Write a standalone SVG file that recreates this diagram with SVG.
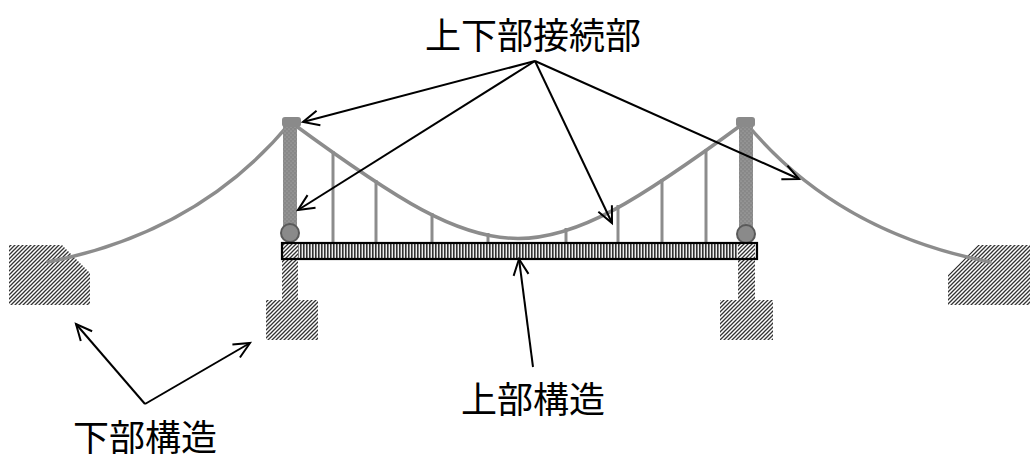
<svg xmlns="http://www.w3.org/2000/svg" width="1033" height="474" viewBox="0 0 1033 474">
  <style>
    .cable { fill: none; stroke: #8c8c8c; stroke-width: 3.5; stroke-linecap: round; }
    .hanger { stroke: #8c8c8c; stroke-width: 3; }
    .hatch { fill: url(#hatch); }
    .column { fill: url(#dots); }
    .cap { fill: #8a8a8a; }
    .bearing { fill: #8a8a8a; stroke: #5a5a5a; stroke-width: 2; }
    .arrow { fill: none; stroke: #000; stroke-width: 2; marker-end: url(#open-head); }
    .label { font-family: "Noto Sans CJK JP", "Noto Sans", sans-serif; font-size: 36px; fill: #000; text-anchor: middle; }
  </style>
  <defs>
    <!-- diagonal hatch for foundations and anchor blocks -->
    <pattern id="hatch" width="4" height="4" patternUnits="userSpaceOnUse">
      <rect width="4" height="4" fill="#fff"/>
      <path d="M-1,1 L1,-1 M0,4 L4,0 M3,5 L5,3" stroke="#333" stroke-width="1.3"/>
    </pattern>
    <!-- dotted grey fill for tower shafts -->
    <pattern id="dots" width="4" height="4" patternUnits="userSpaceOnUse">
      <rect width="4" height="4" fill="#888"/>
      <circle cx="1" cy="1" r="0.6" fill="#b4b4b4"/>
      <circle cx="3" cy="3" r="0.6" fill="#b4b4b4"/>
    </pattern>
    <!-- vertical stripes for the deck girder -->
    <pattern id="stripes" width="3" height="4" patternUnits="userSpaceOnUse">
      <rect width="3" height="4" fill="#eee"/>
      <rect width="1.6" height="4" fill="#333"/>
    </pattern>
    <marker id="open-head" markerUnits="userSpaceOnUse" viewBox="-20 -10 22 20" refX="0" refY="0" markerWidth="22" markerHeight="20" orient="auto" overflow="visible">
      <path d="M-16,-7.5 L0,0 L-16,7.5" fill="none" stroke="#000" stroke-width="2"/>
    </marker>
  </defs>

  <rect width="1033" height="474" fill="#fff"/>

  <!-- anchor blocks -->
  <g id="anchor-left">
    <polygon class="hatch" points="9,245 62,245 90,273 90,305 9,305"/>
  </g>
  <g id="anchor-right">
    <polygon class="hatch" points="978,245 1030,245 1030,305 948,305 948,275"/>
  </g>

  <!-- hangers -->
  <g id="hangers">
    <line class="hanger" x1="333" y1="151" x2="333" y2="243"/>
    <line class="hanger" x1="376" y1="180" x2="376" y2="243"/>
    <line class="hanger" x1="432" y1="213" x2="432" y2="243"/>
    <line class="hanger" x1="488" y1="233" x2="488" y2="243"/>
    <line class="hanger" x1="566" y1="228" x2="566" y2="243"/>
    <line class="hanger" x1="618" y1="205" x2="618" y2="243"/>
    <line class="hanger" x1="662" y1="179" x2="662" y2="243"/>
    <line class="hanger" x1="706" y1="149" x2="706" y2="243"/>
  </g>

  <!-- main and back-stay cables -->
  <g id="cables">
    <path class="cable" d="M292,123 C502,277 534,277 744,123"/>
    <path class="cable" d="M290,123 Q200,232 48,262"/>
    <path class="cable" d="M746,123 Q836,232 990,262"/>
  </g>

  <!-- deck girder -->
  <g id="deck">
    <rect x="282" y="243" width="475" height="16" fill="url(#stripes)"/>
  </g>

  <!-- towers with piers and footings -->
  <g id="tower-left">
    <rect class="hatch" x="266" y="300" width="52" height="40"/>
    <rect class="hatch" x="282" y="243" width="16" height="58"/>
    <rect class="column" x="283" y="124" width="14" height="106"/>
    <rect class="cap" x="282" y="117" width="19" height="10" rx="3"/>
    <circle class="bearing" cx="290" cy="233" r="9"/>
  </g>
  <g id="tower-right">
    <rect class="hatch" x="720" y="300" width="53" height="40"/>
    <rect class="hatch" x="738" y="243" width="17" height="58"/>
    <rect class="column" x="739" y="124" width="14" height="106"/>
    <rect class="cap" x="736" y="117" width="19" height="10" rx="3"/>
    <circle class="bearing" cx="746" cy="234" r="9"/>
  </g>

  <!-- deck outline drawn over the piers -->
  <rect x="282" y="243" width="475" height="16" fill="none" stroke="#000" stroke-width="2.2"/>

  <!-- leader arrows -->
  <g id="connectors">
    <line class="arrow" x1="535" y1="61" x2="303" y2="122"/>
    <line class="arrow" x1="535" y1="61" x2="298" y2="210"/>
    <line class="arrow" x1="535" y1="61" x2="612" y2="223"/>
    <line class="arrow" x1="535" y1="61" x2="799" y2="179"/>
    <line class="arrow" x1="533" y1="367" x2="519" y2="259"/>
    <line class="arrow" x1="145" y1="404" x2="76" y2="324"/>
    <line class="arrow" x1="145" y1="404" x2="250" y2="343"/>
  </g>

  <!-- labels -->
  <g id="label-joint">
    <text class="label" x="533" y="49">上下部接続部</text>
  </g>
  <g id="label-super">
    <text class="label" x="533" y="413">上部構造</text>
  </g>
  <g id="label-sub">
    <text class="label" x="145" y="451">下部構造</text>
  </g>
</svg>
